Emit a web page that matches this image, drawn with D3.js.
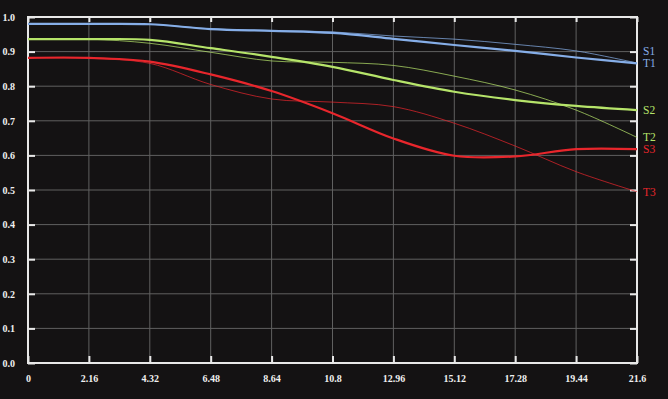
<!DOCTYPE html>
<html>
<head>
<meta charset="utf-8">
<script src="https://cdn.jsdelivr.net/npm/d3@7"></script>
<style>
  body { margin: 0; background: #141213; }
  svg { display: block; }
  .tick text { font-family: "Liberation Serif", serif; font-weight: bold; font-size: 10px; fill: #f0f0f0; }
  .lbl { font-family: "Liberation Serif", serif; font-size: 11.5px; }
</style>
</head>
<body>
<div class="graph"></div>
<script>
// x positions (shared by every series)
var xs = [0, 2.16, 4.32, 6.48, 8.64, 10.8, 12.96, 15.12, 17.28, 19.44, 21.6];
var xTicks = ["0", "2.16", "4.32", "6.48", "8.64", "10.8", "12.96", "15.12", "17.28", "19.44", "21.6"];
var yTicks = [0, 0.1, 0.2, 0.3, 0.4, 0.5, 0.6, 0.7, 0.8, 0.9, 1.0];

var names = ["S1", "T1", "S2", "T2", "S3", "T3"];
var s1 = [0.980, 0.980, 0.979, 0.965, 0.960, 0.954, 0.937, 0.919, 0.902, 0.883, 0.866];
var t1 = [0.980, 0.980, 0.979, 0.966, 0.961, 0.957, 0.945, 0.936, 0.921, 0.902, 0.867];
var s2 = [0.936, 0.936, 0.934, 0.910, 0.885, 0.856, 0.818, 0.784, 0.760, 0.743, 0.731];
var t2 = [0.936, 0.936, 0.924, 0.898, 0.873, 0.869, 0.860, 0.829, 0.789, 0.731, 0.652];
var s3 = [0.882, 0.882, 0.871, 0.834, 0.786, 0.722, 0.649, 0.599, 0.597, 0.618, 0.618];
var t3 = [0.882, 0.880, 0.866, 0.805, 0.763, 0.754, 0.741, 0.693, 0.627, 0.553, 0.495];

var series = [s1, t1, s2, t2, s3, t3];
var colors = ["#86aee8", "#86aee8", "#b6e46a", "#b6e46a", "#e8262c", "#e8262c"];
var thick = [true, false, true, false, true, false];

var margin = {top: 17, right: 31, bottom: 36, left: 28},
    width = 668 - margin.left - margin.right,
    height = 399 - margin.top - margin.bottom;

var x = d3.scaleLinear().domain([0, 21.6]).range([0, width]);
var y = d3.scaleLinear().domain([0, 1]).range([height, 0]);

var svg = d3.select(".graph").append("svg")
    .attr("width", 668)
    .attr("height", 399)
  .append("g")
    .attr("transform", "translate(" + margin.left + "," + margin.top + ")");

// grid
svg.append("g").selectAll("line").data(xs).enter().append("line")
    .attr("x1", function(d) { return x(d); }).attr("x2", function(d) { return x(d); })
    .attr("y1", 0).attr("y2", height)
    .attr("stroke", "#606060").attr("stroke-width", 1);
svg.append("g").selectAll("line").data(yTicks).enter().append("line")
    .attr("x1", 0).attr("x2", width)
    .attr("y1", function(d) { return y(d); }).attr("y2", function(d) { return y(d); })
    .attr("stroke", "#606060").attr("stroke-width", 1);

// axes
var xAxis = d3.axisBottom(x).tickValues(xs)
    .tickFormat(function(d, i) { return xTicks[i]; })
    .tickSizeInner(-7).tickSizeOuter(0).tickPadding(12);
var yAxis = d3.axisLeft(y).tickValues(yTicks)
    .tickFormat(d3.format(".1f"))
    .tickSizeInner(-7).tickSizeOuter(0).tickPadding(13);

svg.append("g").attr("class", "xaxis")
    .attr("transform", "translate(0," + height + ")")
    .call(xAxis);
svg.append("g").attr("class", "yaxis").call(yAxis);
svg.append("g").attr("class", "yaxis2")
    .attr("transform", "translate(" + width + ",0)")
    .call(d3.axisRight(y).tickValues(yTicks).tickSizeInner(-7).tickSizeOuter(0).tickFormat(""));
svg.append("g").attr("class", "xaxis2")
    .call(d3.axisTop(x).tickValues(xs).tickSizeInner(-5).tickSizeOuter(0).tickFormat(""));

svg.selectAll(".domain").remove();
svg.selectAll(".tick line").attr("stroke", "#e8e8e8").attr("stroke-width", 2);

// frame
svg.append("rect")
    .attr("width", width).attr("height", height)
    .attr("fill", "none").attr("stroke", "#e8e8e8").attr("stroke-width", 2);

var valueline = d3.line()
    .x(function(d, i) { return x(xs[i]); })
    .y(function(d) { return y(d); })
    .curve(d3.curveCatmullRom);

// thin first, thick on top
[1, 3, 5, 0, 2, 4].forEach(function(k) {
  svg.append("path")
    .datum(series[k])
    .attr("fill", "none")
    .attr("stroke", colors[k])
    .attr("stroke-width", thick[k] ? 2.2 : 0.9)
    .attr("stroke-opacity", thick[k] ? 1 : 0.8)
    .attr("d", valueline);
});

// end labels, nudged apart where they would overlap
var ly = series.map(function(s) { return y(s[s.length - 1]); });
for (var i = ly.length - 2; i >= 0; i--) {
  if (ly[i + 1] - ly[i] < 12) ly[i] = ly[i + 1] - 12;
}
svg.append("g").selectAll("text").data(names).enter().append("text")
    .attr("class", "lbl")
    .attr("x", width + 6)
    .attr("y", function(d, i) { return ly[i]; })
    .attr("dy", "0.35em")
    .attr("fill", function(d, i) { return colors[i]; })
    .text(function(d) { return d; });
</script>
</body>
</html>
